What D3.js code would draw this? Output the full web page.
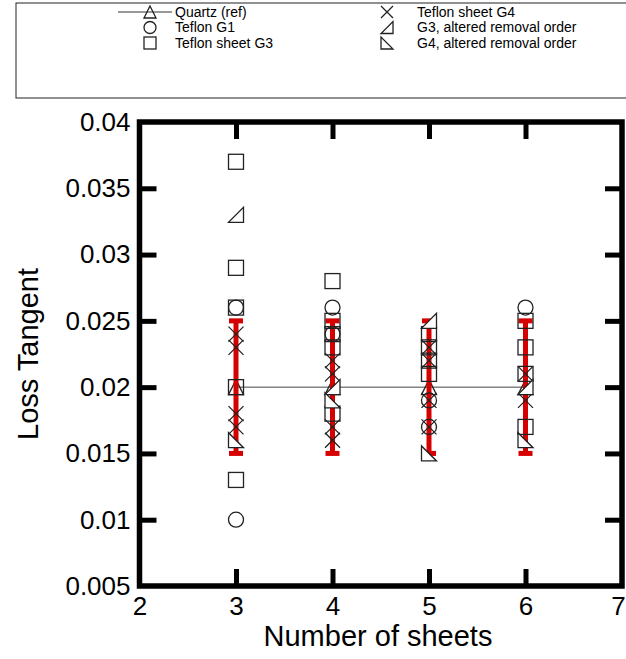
<!DOCTYPE html>
<html><head><meta charset="utf-8">
<script src="https://cdn.jsdelivr.net/npm/d3@7"></script>
<style>body{margin:0;background:#fff}svg{display:block;font-family:"Liberation Sans",Arial,sans-serif}</style>
</head><body><svg id="c" width="626" height="659"></svg>
<script>
// ---- data ----
const xTicks = [2,3,4,5,6,7];
const yTicks = [0.005,0.01,0.015,0.02,0.025,0.03,0.035,0.04];
const yTickLabels = ["0.005","0.01","0.015","0.02","0.025","0.03","0.035","0.04"];
const sheets = [3,4,5,6];
const quartz = [0.02,0.02,0.02,0.02];
const quartzErrLow = [0.015,0.015,0.015,0.015];
const quartzErrHigh = [0.025,0.025,0.025,0.025];
const teflonG1 = [[3,0.026],[3,0.010],[4,0.026],[4,0.024],[5,0.019],[5,0.017],[6,0.026]];
const teflonG3 = [[3,0.037],[3,0.029],[3,0.026],[3,0.020],[3,0.013],[4,0.028],[4,0.025],[4,0.024],[4,0.023],[4,0.018],[5,0.024],[5,0.023],[5,0.022],[5,0.021],[6,0.025],[6,0.023],[6,0.021],[6,0.017]];
const teflonG4 = [[3,0.024],[3,0.023],[3,0.018],[3,0.017],[4,0.022],[4,0.021],[4,0.017],[4,0.016],[5,0.023],[5,0.022],[5,0.019],[5,0.017],[6,0.021],[6,0.019]];
const g3Altered = [[3,0.033],[4,0.020],[5,0.025],[6,0.020]];
const g4Altered = [[3,0.016],[4,0.019],[5,0.015],[6,0.016]];
const legendLabels = ["Quartz (ref)","Teflon G1","Teflon sheet G3","Teflon sheet G4","G3, altered removal order","G4, altered removal order"];

// ---- layout ----
const svg = d3.select("#c");
const L = 139.5, R = 622, T = 122, B = 586;
const x = d3.scaleLinear().domain([2,7]).range([L,R]);
const y = d3.scaleLinear().domain([0.005,0.04]).range([B,T]);
const ink = "#222";

function marker(g, type, cx, cy, S){
  S = S || 15;
  const h = S/2;
  if(type==="tri") g.append("path").attr("d",`M${cx},${cy-h}L${cx+h},${cy+h}L${cx-h},${cy+h}Z`).attr("fill","none").attr("stroke",ink).attr("stroke-width",1.3);
  else if(type==="circ") g.append("circle").attr("cx",cx).attr("cy",cy).attr("r",h).attr("fill","none").attr("stroke",ink).attr("stroke-width",1.3);
  else if(type==="sq") g.append("rect").attr("x",cx-h).attr("y",cy-h).attr("width",S).attr("height",S).attr("fill","none").attr("stroke",ink).attr("stroke-width",1.3);
  else if(type==="x") g.append("path").attr("d",`M${cx-h},${cy-h}L${cx+h},${cy+h}M${cx-h},${cy+h}L${cx+h},${cy-h}`).attr("fill","none").attr("stroke",ink).attr("stroke-width",1.3);
  else if(type==="g3a") g.append("path").attr("d",`M${cx+h},${cy-h}L${cx+h},${cy+h}L${cx-h},${cy+h}Z`).attr("fill","#fff").attr("stroke",ink).attr("stroke-width",1.3);
  else if(type==="g4a") g.append("path").attr("d",`M${cx-h},${cy-h}L${cx-h},${cy+h}L${cx+h},${cy+h}Z`).attr("fill","#fff").attr("stroke",ink).attr("stroke-width",1.3);
}

// ---- legend ----
const lg = svg.append("g");
lg.append("rect").attr("x",16).attr("y",3).attr("width",640).attr("height",95).attr("fill","#fff").attr("stroke","#222").attr("stroke-width",1);
const types = ["tri","circ","sq","x","g3a","g4a"];
const rowY = [12,27.5,43];
types.forEach((t,i)=>{
  const col = i<3?0:1, row = i%3;
  const mx = col===0?150:387, tx = col===0?175:417;
  if(i===0) lg.append("line").attr("x1",118).attr("x2",172).attr("y1",rowY[row]).attr("y2",rowY[row]).attr("stroke","#333").attr("stroke-width",1);
  marker(lg, t, mx, rowY[row], 12);
  lg.append("text").attr("x",tx).attr("y",rowY[row]).attr("dy","0.35em").attr("font-size",14).text(legendLabels[i]);
});

// ---- axes ----
const ax = svg.append("g");
function styleAxis(g){ g.select(".domain").remove(); g.selectAll(".tick line").attr("stroke","#000").attr("stroke-width",5); }
ax.append("g").attr("transform",`translate(0,${B})`).call(d3.axisBottom(x).tickValues([3,4,5,6]).tickSize(-17).tickFormat("")).call(styleAxis);
ax.append("g").attr("transform",`translate(0,${T})`).call(d3.axisTop(x).tickValues([3,4,5,6]).tickSize(-17).tickFormat("")).call(styleAxis);
ax.append("g").attr("transform",`translate(${L},0)`).call(d3.axisLeft(y).tickValues(yTicks.slice(1,-1)).tickSize(-17).tickFormat("")).call(styleAxis);
ax.append("g").attr("transform",`translate(${R},0)`).call(d3.axisRight(y).tickValues(yTicks.slice(1,-1)).tickSize(-17).tickFormat("")).call(styleAxis);
// labels
const xl = ax.append("g").attr("transform",`translate(0,${B})`).call(d3.axisBottom(x).tickValues(xTicks).tickSize(0).tickPadding(11).tickFormat(d3.format("d")));
xl.select(".domain").remove();
xl.selectAll("text").attr("font-size",26).attr("fill","#000").attr("font-family","Liberation Sans, Arial, sans-serif")
  .attr("dx",d=>d===7?-4:0);
const yl = ax.append("g").attr("transform",`translate(${L},0)`).call(d3.axisLeft(y).tickValues(yTicks).tickSize(0).tickPadding(9).tickFormat((d,i)=>yTickLabels[i]));
yl.select(".domain").remove();
yl.selectAll("text").attr("font-size",26).attr("fill","#000").attr("font-family","Liberation Sans, Arial, sans-serif");
svg.append("rect").attr("x",L).attr("y",T).attr("width",R-L).attr("height",B-T).attr("fill","none").attr("stroke","#000").attr("stroke-width",5.5);
svg.append("text").attr("x",378).attr("y",646).attr("text-anchor","middle").attr("font-size",29).text("Number of sheets");
svg.append("text").attr("transform",`translate(38,354) rotate(-90)`).attr("text-anchor","middle").attr("font-size",29).text("Loss Tangent");

// ---- plot ----
const pg = svg.append("g");
pg.append("path").datum(sheets.map((s,i)=>[s,quartz[i]])).attr("d",d3.line().x(d=>x(d[0])).y(d=>y(d[1]))).attr("fill","none").attr("stroke","#444").attr("stroke-width",1);
sheets.forEach((s,i)=>marker(pg,"tri",x(s),y(quartz[i])));
// error bars
sheets.forEach((s,i)=>{
  const cx = x(s);
  pg.append("line").attr("x1",cx).attr("x2",cx).attr("y1",y(quartzErrLow[i])).attr("y2",y(quartzErrHigh[i])).attr("stroke","#d60000").attr("stroke-width",5);
  [quartzErrLow[i],quartzErrHigh[i]].forEach(v=>pg.append("line").attr("x1",cx-7).attr("x2",cx+7).attr("y1",y(v)).attr("y2",y(v)).attr("stroke","#d60000").attr("stroke-width",5));
});
teflonG1.forEach(d=>marker(pg,"circ",x(d[0]),y(d[1])));
teflonG3.forEach(d=>marker(pg,"sq",x(d[0]),y(d[1])));
teflonG4.forEach(d=>marker(pg,"x",x(d[0]),y(d[1])));
g3Altered.forEach(d=>marker(pg,"g3a",x(d[0]),y(d[1])));
g4Altered.forEach(d=>marker(pg,"g4a",x(d[0]),y(d[1])));
</script></body></html>
